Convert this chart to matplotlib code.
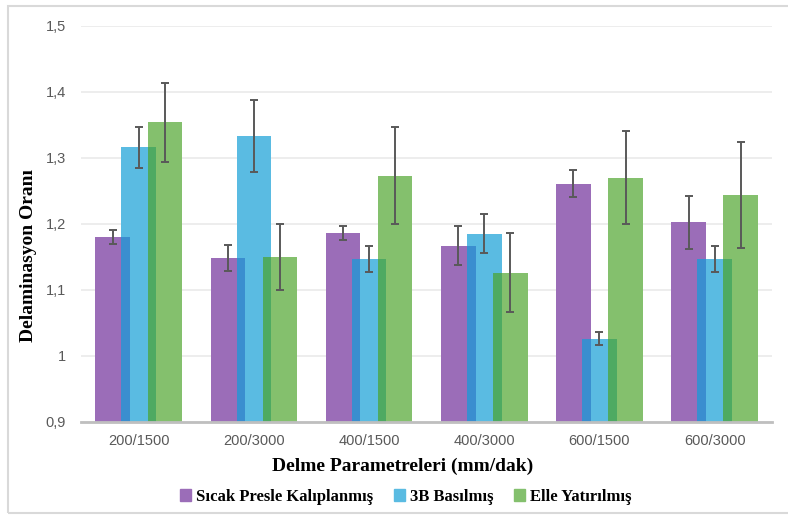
import numpy as np
import matplotlib.pyplot as plt
from matplotlib.patches import Rectangle

# data
categories = ['200/1500', '200/3000', '400/1500', '400/3000', '600/1500', '600/3000']
series_names = ['Sıcak Presle Kalıplanmış', '3B Basılmış', 'Elle Yatırılmış']
sicak = [1.180, 1.148, 1.186, 1.167, 1.261, 1.202]
sicak_err = [0.010, 0.020, 0.010, 0.030, 0.020, 0.040]
basilmis = [1.316, 1.333, 1.147, 1.185, 1.026, 1.147]
basilmis_err = [0.031, 0.054, 0.020, 0.030, 0.010, 0.020]
elle = [1.354, 1.150, 1.273, 1.126, 1.270, 1.244]
elle_err = [0.060, 0.050, 0.073, 0.060, 0.070, 0.080]
yticks = [0.9, 1.0, 1.1, 1.2, 1.3, 1.4, 1.5]
ytick_labels = ['0,9', '1', '1,1', '1,2', '1,3', '1,4', '1,5']

colors = ['#9B6DB8', '#5ABBE2', '#84C06D']
overlap_colors = ['#3A8ECF', '#4EAA62']

fig = plt.figure(figsize=(7.88, 5.15), dpi=100)
ax = fig.add_axes([0.103, 0.181, 0.877, 0.769])

x = np.arange(len(categories))
width = 0.30
step = 0.226
base = 0.9
values = [sicak, basilmis, elle]
errors = [sicak_err, basilmis_err, elle_err]

for i, (vals, errs) in enumerate(zip(values, errors)):
    pos = x + (i - 1) * step
    h = np.array(vals) - base
    ax.bar(pos, h, width, bottom=base, color=colors[i], zorder=2 + i,
           label=series_names[i])

# darker strips where neighbouring bars overlap
for i in range(2):
    left = x + (i - 1) * step + width / 2
    right = x + i * step - width / 2
    mid = (left + right) / 2
    h = np.minimum(values[i], values[i + 1]) - base
    ax.bar(mid, h, left - right, bottom=base, color=overlap_colors[i], zorder=5)

for i, (vals, errs) in enumerate(zip(values, errors)):
    pos = x + (i - 1) * step
    ax.errorbar(pos, vals, yerr=errs, fmt='none', ecolor='#595959',
                elinewidth=1.4, capsize=3, capthick=1.4, zorder=6)

ax.set_ylim(0.9, 1.5)
ax.set_xlim(-0.5, len(categories) - 0.5)
ax.set_yticks(yticks)
ax.set_yticklabels(ytick_labels)
ax.set_xticks(x)
ax.set_xticklabels(categories)
ax.tick_params(length=0, labelsize=10.5, labelcolor='#595959', pad=11)
ax.tick_params(axis='x', pad=9)
for lab in ax.get_xticklabels() + ax.get_yticklabels():
    lab.set_fontfamily('Liberation Sans')
ax.grid(axis='y', color='#EAEAEA', linewidth=1.2, zorder=0)
ax.set_axisbelow(True)
for s in ['top', 'right', 'left']:
    ax.spines[s].set_visible(False)
ax.spines['bottom'].set_color('#BFBFBF')
ax.spines['bottom'].set_linewidth(2)
ax.spines['bottom'].set_zorder(7)

ax.set_ylabel('Delaminasyon Oranı', fontfamily='Liberation Serif',
              fontweight='bold', fontsize=14, va='center')
ax.yaxis.set_label_coords(-0.076, 0.42)
ax.set_xlabel('Delme Parametreleri (mm/dak)', fontfamily='Liberation Serif',
              fontweight='bold', fontsize=14, va='center')
ax.xaxis.set_label_coords(0.465, -0.112)

handles = [Rectangle((0, 0), 1, 1, color=c) for c in colors]
fig.legend(handles, series_names, loc='center', bbox_to_anchor=(0.515, 0.035),
           ncol=3, frameon=False, handlelength=0.7, handleheight=0.7,
           handletextpad=0.3, columnspacing=1.2,
           prop={'family': 'Liberation Serif', 'weight': 'bold', 'size': 12})

# light outer frame
fig.patches.append(Rectangle((0.01, 0.004), 1.2, 0.984, transform=fig.transFigure,
                             fill=False, edgecolor='#D9D9D9', linewidth=1.5))

fig.savefig('out.png', dpi=100)
